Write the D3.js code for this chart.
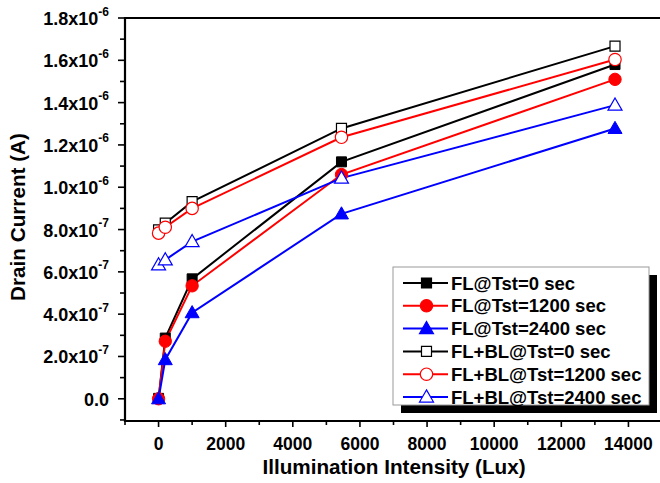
<!DOCTYPE html>
<html>
<head>
<meta charset="utf-8">
<script src="https://cdn.jsdelivr.net/npm/d3@7"></script>
<style>
  body { margin: 0; background: #fff; }
  svg { display: block; font-family: Arial, "Liberation Sans", sans-serif; font-weight: bold; }
</style>
</head>
<body>
<svg id="chart" width="660" height="483"></svg>
<script>
// illumination intensity (lux)
const lux = [0, 200, 1000, 5450, 13600];

// drain current (A) per condition
const flTst0     = [0.2e-8, 2.87e-7, 5.67e-7, 1.12e-6, 1.58e-6];
const flTst1200  = [0.0,    2.72e-7, 5.34e-7, 1.06e-6, 1.51e-6];
const flTst2400  = [0.0,    1.85e-7, 4.07e-7, 8.74e-7, 1.278e-6];
const fbTst0     = [7.98e-7, 8.3e-7, 9.32e-7, 1.278e-6, 1.667e-6];
const fbTst1200  = [7.83e-7, 8.11e-7, 9.0e-7, 1.236e-6, 1.604e-6];
const fbTst2400  = [6.33e-7, 6.57e-7, 7.43e-7, 1.043e-6, 1.388e-6];

const seriesNames = ["FL@Tst=0 sec", "FL@Tst=1200 sec", "FL@Tst=2400 sec",
                     "FL+BL@Tst=0 sec", "FL+BL@Tst=1200 sec", "FL+BL@Tst=2400 sec"];
const seriesValues = [flTst0, flTst1200, flTst2400, fbTst0, fbTst1200, fbTst2400];

const xTicks = [0, 2000, 4000, 6000, 8000, 10000, 12000, 14000];
const yTicks = [0, 2e-7, 4e-7, 6e-7, 8e-7, 1e-6, 1.2e-6, 1.4e-6, 1.6e-6, 1.8e-6];

// styles per series
const colors = ["#000", "#f00", "#00f", "#000", "#f00", "#00f"];
const shapes = ["square", "circle", "triangle", "square", "circle", "triangle"];
const filled = [true, true, true, false, false, false];

const svg = d3.select("#chart");
const pL = 125, pR = 662, pT = 18, pB = 421;

const x = d3.scaleLinear().domain([-1000, 15000]).range([pL, pR]);
const y = d3.scaleLinear().domain([-1.05e-7, 1.8e-6]).range([pB, pT]);

// markers
const symGen = {
  square: d3.symbol(d3.symbolSquare, 100),
  circle: d3.symbol(d3.symbolCircle, 120),
  triangle: d3.symbol(d3.symbolTriangle, 85)
};

const plot = svg.append("g");

seriesValues.forEach((vals, i) => {
  const pts = lux.map((lx, k) => [x(lx), y(vals[k])]);
  plot.append("path")
    .attr("d", d3.line()(pts))
    .attr("fill", "none")
    .attr("stroke", colors[i])
    .attr("stroke-width", 2);
});
seriesValues.forEach((vals, i) => {
  plot.selectAll(null)
    .data(lux.map((lx, k) => [x(lx), y(vals[k])]))
    .join("path")
    .attr("transform", d => `translate(${d[0]},${d[1] + (shapes[i] == "triangle" ? 1 : 0)})`)
    .attr("d", symGen[shapes[i]]())
    .attr("fill", filled[i] ? colors[i] : "#fff")
    .attr("stroke", colors[i])
    .attr("stroke-width", filled[i] ? 1 : 1.2);
});

// axes frame
svg.append("line").attr("x1", pL).attr("x2", 660).attr("y1", pT).attr("y2", pT)
  .attr("stroke", "#000").attr("stroke-width", 2);

// x axis
const xAxis = svg.append("g").attr("transform", `translate(0,${pB})`);
xAxis.append("line").attr("x1", pL - 1).attr("x2", 660).attr("stroke", "#000").attr("stroke-width", 2.2);
const xMinor = d3.range(-1000, 15001, 1000);
xAxis.selectAll("line.minor").data(xMinor).join("line")
  .attr("class", "minor")
  .attr("x1", d => x(d)).attr("x2", d => x(d))
  .attr("y1", 0).attr("y2", d => d % 2000 === 0 ? 6 : 4)
  .attr("stroke", "#000").attr("stroke-width", 1.6);
xAxis.selectAll("text").data(xTicks).join("text")
  .attr("x", d => x(d)).attr("y", 29)
  .attr("text-anchor", "middle")
  .attr("font-size", 17.5)
  .text(d => d);

svg.append("text")
  .attr("x", 394).attr("y", 474)
  .attr("text-anchor", "middle")
  .attr("font-size", 20.7)
  .text("Illumination Intensity (Lux)");

// y axis
const yAxis = svg.append("g").attr("transform", `translate(${pL},0)`);
yAxis.append("line").attr("y1", pT - 1).attr("y2", pB + 1).attr("stroke", "#000").attr("stroke-width", 2.2);
const yMinor = d3.range(-1, 18.5, 1).map(k => k * 1e-7);
yAxis.selectAll("line.minor").data(yMinor).join("line")
  .attr("class", "minor")
  .attr("y1", d => y(d)).attr("y2", d => y(d))
  .attr("x1", 0).attr("x2", (d, k) => (k - 1) % 2 === 0 ? -7 : -5)
  .attr("stroke", "#000").attr("stroke-width", 1.6);

const yLab = yAxis.selectAll("text").data(yTicks).join("text")
  .attr("x", -16).attr("y", d => y(d) + 7)
  .attr("text-anchor", "end")
  .attr("font-size", 18);
yLab.each(function(d) {
  const t = d3.select(this);
  if (d === 0) { t.text("0.0"); return; }
  const e = Math.floor(Math.log10(d) + 1e-9);
  const m = d / Math.pow(10, e);
  t.append("tspan").text(m.toFixed(1) + "x10");
  t.append("tspan").attr("dy", -9.5).attr("font-size", 12).text(String(e));
});

svg.append("text")
  .attr("transform", "translate(25,217) rotate(-90)")
  .attr("text-anchor", "middle")
  .attr("font-size", 20.7)
  .text("Drain Current (A)");

// legend
const lg = svg.append("g").attr("transform", "translate(393,267)");
lg.append("rect").attr("x", 8).attr("y", 8).attr("width", 256).attr("height", 138).attr("fill", "#000");
lg.append("rect").attr("x", 0).attr("y", 0).attr("width", 256).attr("height", 138)
  .attr("fill", "#fff").attr("stroke", "#999").attr("stroke-width", 1);
seriesNames.forEach((name, i) => {
  const ry = 16 + i * 22.8;
  lg.append("line").attr("x1", 10).attr("x2", 55).attr("y1", ry).attr("y2", ry)
    .attr("stroke", colors[i]).attr("stroke-width", 2);
  lg.append("path")
    .attr("transform", `translate(33.5,${ry + (shapes[i] == "triangle" ? 1 : 0)})`)
    .attr("d", symGen[shapes[i]]())
    .attr("fill", filled[i] ? colors[i] : "#fff")
    .attr("stroke", colors[i]).attr("stroke-width", 1.2);
  lg.append("text").attr("x", 58).attr("y", ry + 6.5)
    .attr("font-size", 18.5).attr("fill", "#000")
    .text(name);
});
</script>
</body>
</html>
